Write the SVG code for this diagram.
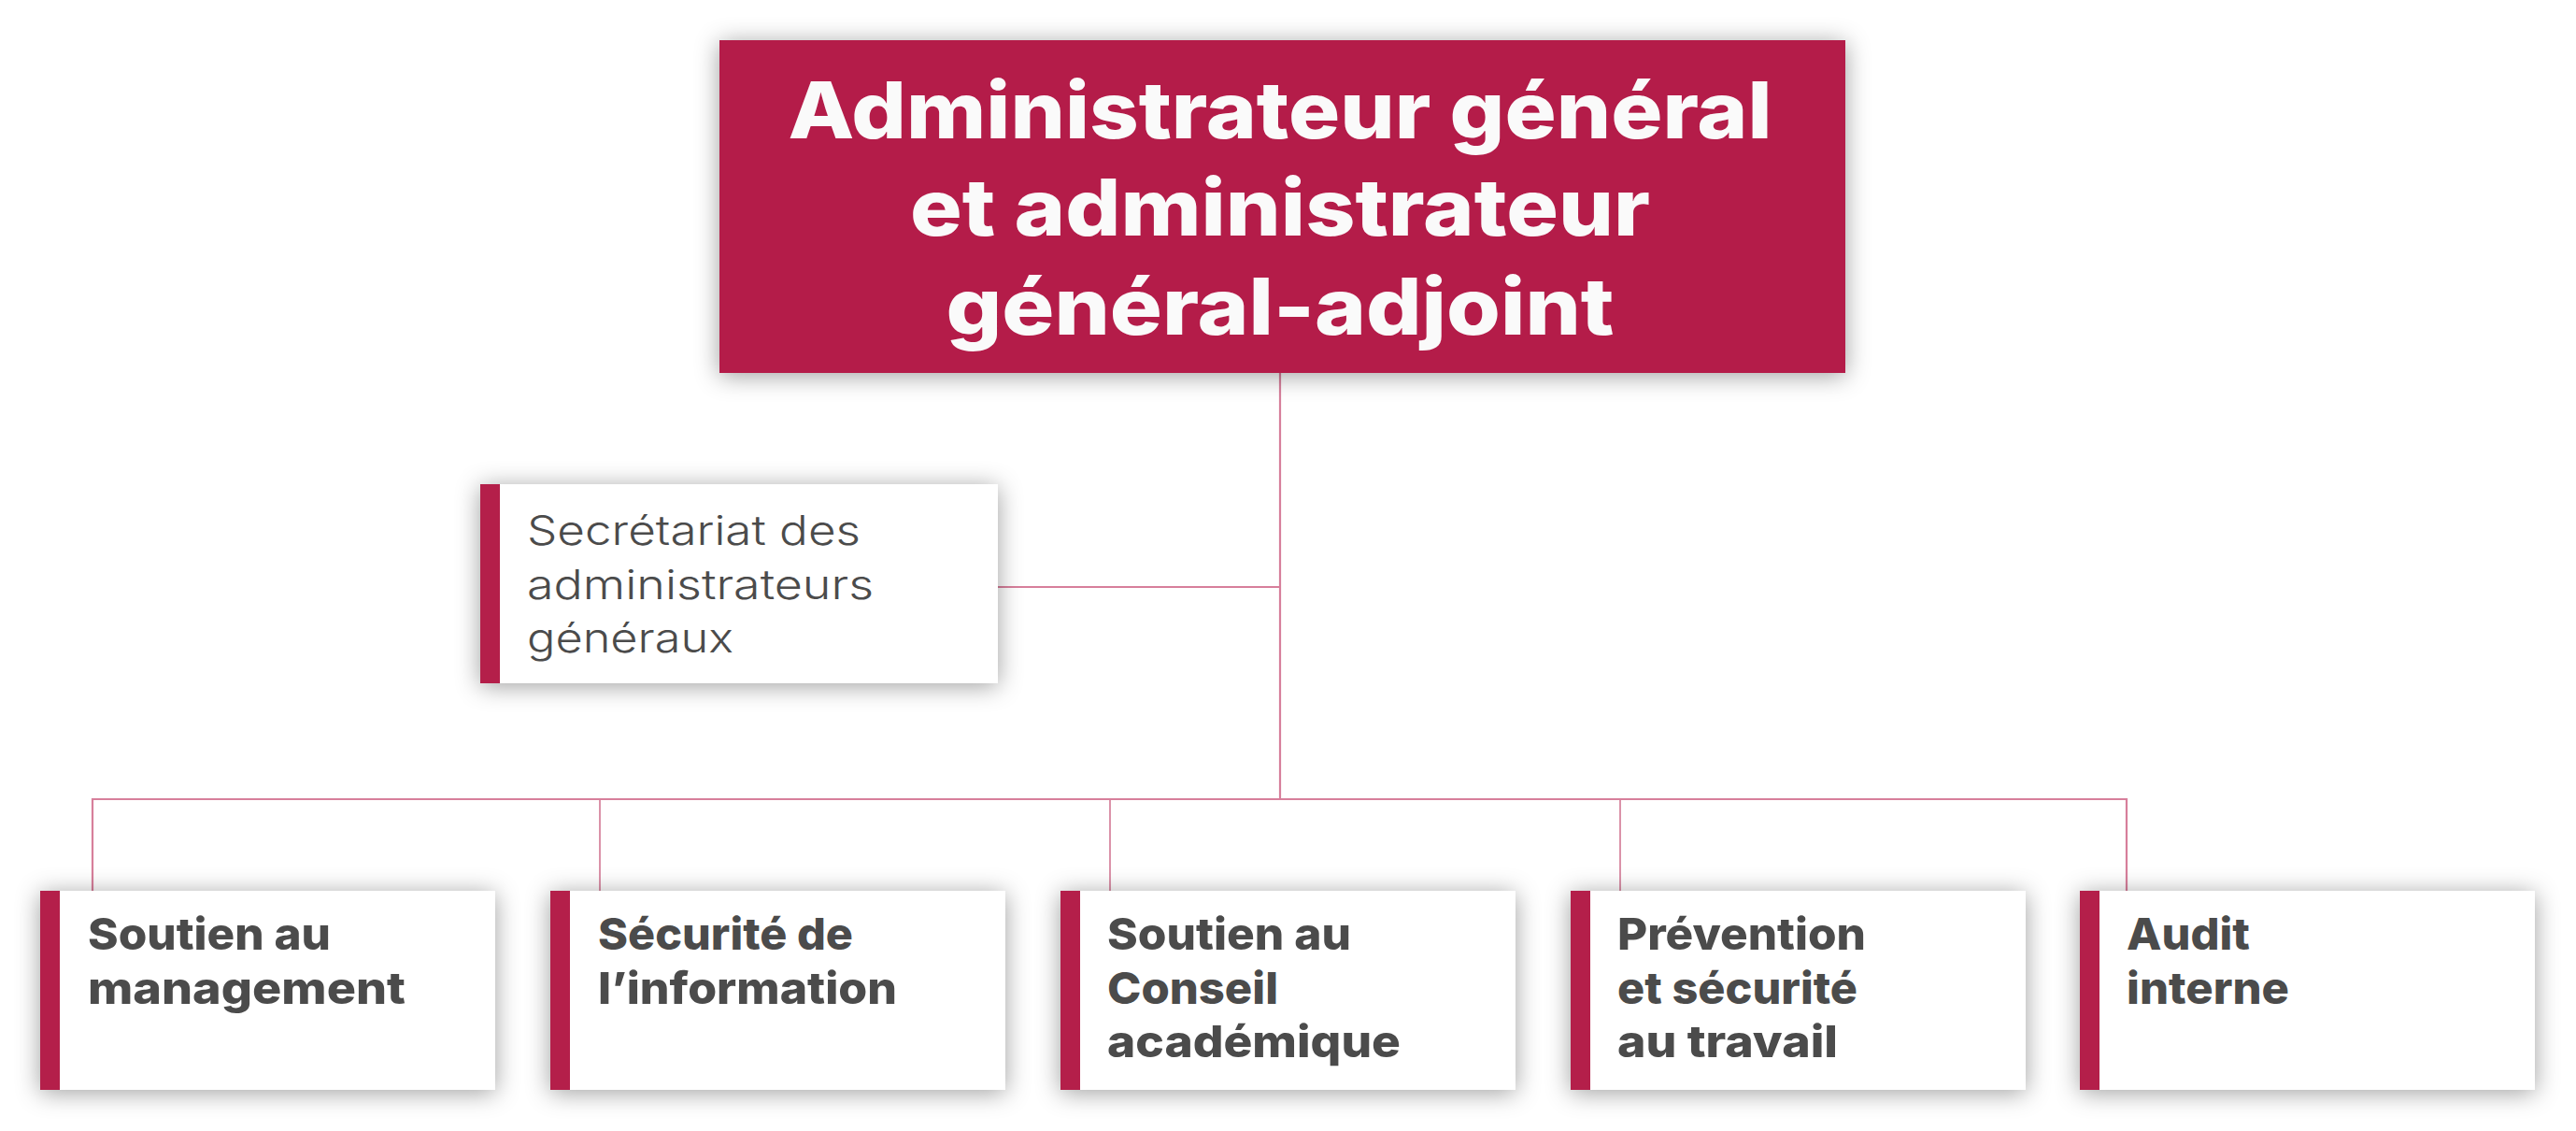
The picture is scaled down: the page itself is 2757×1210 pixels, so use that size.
<svg xmlns="http://www.w3.org/2000/svg" width="2757" height="1210" viewBox="0 0 2757 1210">
<defs>
<filter id="sh" x="-10%" y="-30%" width="120%" height="160%">
<feDropShadow dx="0" dy="3" stdDeviation="13" flood-color="#000" flood-opacity="0.38"/>
</filter>
<style>
.box{fill:#ffffff;filter:url(#sh)}
.main{fill:#b41f4a;filter:url(#sh)}
.bar{fill:#b41f4a}
.ln{stroke:#d77f9b;stroke-width:2.2;fill:none}
.dr{stroke:#cf6e8d;stroke-width:1.5;fill:none}
.t1{font-family:Inter,"Liberation Sans",sans-serif;font-weight:800;font-size:84px;fill:#fafafa;text-anchor:middle}
.t2{font-family:Inter,"Liberation Sans",sans-serif;font-weight:800;font-size:47px;fill:#4b4b4b}
.t3{font-family:Inter,"Liberation Sans",sans-serif;font-weight:300;font-size:44px;fill:#4b4b4b}
</style>
</defs>
<rect width="2757" height="1210" fill="#ffffff"/>
<g id="connectors">
<line class="ln" x1="1370" y1="399" x2="1370" y2="855"/>
<line class="ln" x1="1068" y1="628" x2="1370" y2="628"/>
<polyline class="ln" points="99,953 99,855 2276,855 2276,953"/>
<line class="dr" x1="642" y1="856" x2="642" y2="953"/>
<line class="dr" x1="1188" y1="856" x2="1188" y2="953"/>
<line class="dr" x1="1734" y1="856" x2="1734" y2="953"/>
</g>
<g id="node-admin">
<rect class="main" x="770" y="43" width="1205" height="356"/>
<text class="t1" x="1370" y="148" textLength="1053" lengthAdjust="spacingAndGlyphs">Administrateur général</text>
<text class="t1" x="1370" y="252" textLength="792" lengthAdjust="spacingAndGlyphs">et administrateur</text>
<text class="t1" x="1370" y="358" textLength="715" lengthAdjust="spacingAndGlyphs">général-adjoint</text>
</g>
<g id="node-secretariat">
<rect class="box" x="514" y="518" width="554" height="213"/>
<rect class="bar" x="514" y="518" width="21" height="213"/>
<text class="t3" x="564" y="583" textLength="357" lengthAdjust="spacingAndGlyphs">Secrétariat des</text>
<text class="t3" x="564" y="641" textLength="371" lengthAdjust="spacingAndGlyphs">administrateurs</text>
<text class="t3" x="564" y="698" textLength="221" lengthAdjust="spacingAndGlyphs">généraux</text>
</g>
<g id="node-management">
<rect class="box" x="43" y="953" width="487" height="213"/>
<rect class="bar" x="43" y="953" width="21" height="213"/>
<text class="t2" x="94" y="1016" textLength="260" lengthAdjust="spacingAndGlyphs">Soutien au</text>
<text class="t2" x="94" y="1074" textLength="340" lengthAdjust="spacingAndGlyphs">management</text>
</g>
<g id="node-securite-info">
<rect class="box" x="589" y="953" width="487" height="213"/>
<rect class="bar" x="589" y="953" width="21" height="213"/>
<text class="t2" x="640" y="1016" textLength="273" lengthAdjust="spacingAndGlyphs">Sécurité de</text>
<text class="t2" x="640" y="1074" textLength="320" lengthAdjust="spacingAndGlyphs">l’information</text>
</g>
<g id="node-conseil">
<rect class="box" x="1135" y="953" width="487" height="213"/>
<rect class="bar" x="1135" y="953" width="21" height="213"/>
<text class="t2" x="1185" y="1016" textLength="261" lengthAdjust="spacingAndGlyphs">Soutien au</text>
<text class="t2" x="1185" y="1074" textLength="183" lengthAdjust="spacingAndGlyphs">Conseil</text>
<text class="t2" x="1185" y="1131" textLength="314" lengthAdjust="spacingAndGlyphs">académique</text>
</g>
<g id="node-prevention">
<rect class="box" x="1681" y="953" width="487" height="213"/>
<rect class="bar" x="1681" y="953" width="21" height="213"/>
<text class="t2" x="1731" y="1016" textLength="266" lengthAdjust="spacingAndGlyphs">Prévention</text>
<text class="t2" x="1731" y="1074" textLength="257" lengthAdjust="spacingAndGlyphs">et sécurité</text>
<text class="t2" x="1731" y="1131" textLength="236" lengthAdjust="spacingAndGlyphs">au travail</text>
</g>
<g id="node-audit">
<rect class="box" x="2226" y="953" width="487" height="213"/>
<rect class="bar" x="2226" y="953" width="21" height="213"/>
<text class="t2" x="2276" y="1016" textLength="132" lengthAdjust="spacingAndGlyphs">Audit</text>
<text class="t2" x="2276" y="1074" textLength="174" lengthAdjust="spacingAndGlyphs">interne</text>
</g>
</svg>
